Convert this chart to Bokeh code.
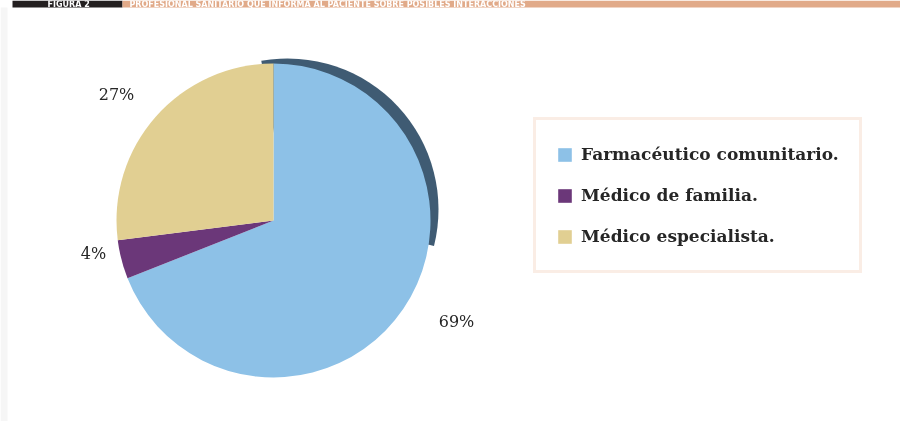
import numpy as np
from bokeh.plotting import figure
from bokeh.models import Range1d, Legend, LegendItem, ColumnDataSource
from bokeh.core.properties import value
from bokeh.embed import file_html
from bokeh.resources import INLINE

# ---------------- data ----------------
categories = ["Farmacéutico comunitario.", "Médico de familia.", "Médico especialista."]
percentages = [69, 4, 27]
pct_labels = ["69%", "4%", "27%"]
slice_colors = ["#8dc1e7", "#6b3779", "#e1cf92"]
figure_tag = "FIGURA 2"
title_text = "PROFESIONAL SANITARIO QUE INFORMA AL PACIENTE SOBRE POSIBLES INTERACCIONES"

# ---------------- layout (pixel space, y measured from top) ----------------
W, H = 900, 421
CX, CY, R = 273, 220, 157
label_pos = [(456, 321), (93, 253), (116, 94)]


def fy(y):
    return H - y


p = figure(width=W, height=H, x_range=Range1d(0, W), y_range=Range1d(0, H),
           x_axis_type=None, y_axis_type=None, output_backend="svg",
           toolbar_location=None, min_border=0)
p.outline_line_color = None
p.background_fill_color = "white"
p.border_fill_color = "white"
p.styles = {"position": "fixed", "left": "0px", "top": "0px"}

# header bar
p.quad(left=[12], right=[122], top=[H], bottom=[fy(7)], fill_color="#231f20", line_color=None)
p.quad(left=[122], right=[W], top=[H], bottom=[fy(7)], fill_color="#e1aa89", line_color=None)
p.text(x=[47], y=[fy(3.6)], text=[figure_tag], text_color="white",
       text_font=value("DejaVu Sans"), text_font_style="bold",
       text_font_size="8px", text_baseline="middle")
p.text(x=[129], y=[fy(3.6)], text=[title_text], text_color="white",
       text_font=value("DejaVu Sans"), text_font_style="bold",
       text_font_size="8px", text_baseline="middle")

# faint left shadow
p.quad(left=[0], right=[7], top=[fy(7)], bottom=[0], fill_color="#f6f6f6", line_color=None)

# pie angles
frac = np.array(percentages) / 100.0
cum = np.cumsum(frac)
starts = np.pi / 2 - 2 * np.pi * (cum - frac)
ends = np.pi / 2 - 2 * np.pi * cum

# 3D edge (dark rim behind the big slice), offset up and to the right, tapering
p.wedge(x=CX + 14, y=fy(CY - 11), radius=R - 6, start_angle=np.radians(100), end_angle=np.radians(-14),
        direction="clock", fill_color="#3f5b73", line_color=None)

src = ColumnDataSource(dict(x=[CX] * 3, y=[fy(CY)] * 3, start=starts, end=ends,
                            color=slice_colors, cat=categories))
r = p.wedge(x="x", y="y", radius=R, start_angle="start", end_angle="end",
            direction="clock", fill_color="color", line_color=None, source=src)

# percentage labels
p.text(x=[q[0] for q in label_pos], y=[fy(q[1]) for q in label_pos], text=pct_labels,
       text_align="center", text_baseline="middle", text_color="#262626",
       text_font=value("DejaVu Serif"), text_font_size="16px")

legend = Legend(items=[LegendItem(label=c, renderers=[r], index=i) for i, c in enumerate(categories)],
                location=(533, fy(273)), orientation="vertical")
legend.border_line_color = "#f5dccb"
legend.border_line_width = 3
legend.background_fill_color = "white"
legend.background_fill_alpha = 1
legend.label_text_font = "DejaVu Serif"
legend.label_text_font_style = "bold"
legend.label_text_font_size = "17px"
legend.label_text_color = "#262626"
legend.glyph_width = 17
legend.glyph_height = 17
legend.label_height = 28
legend.label_standoff = 8
legend.padding = 20
legend.spacing = 13
legend.margin = 0
p.add_layout(legend, "center")

open("out.html", "w").write(file_html(p, INLINE))
